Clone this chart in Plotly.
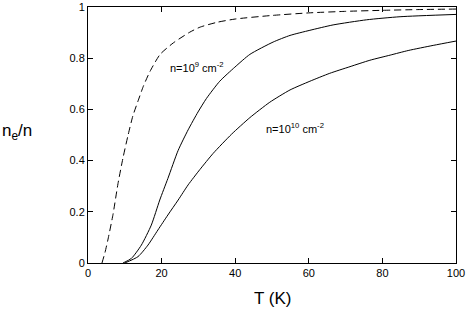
import plotly.graph_objects as go

T_dash = [3.8, 4.6, 5.4, 6.8, 8.15, 9.5, 10.9, 12.2, 13.7, 15.0, 16.8, 19.6, 23.2, 27.7, 30.4, 35, 40, 50, 60, 70, 80, 90, 100]
v_dash = [0, 0.04, 0.09, 0.19, 0.31, 0.41, 0.50, 0.575, 0.637, 0.689, 0.747, 0.815, 0.86, 0.902, 0.921, 0.94, 0.953, 0.967, 0.977, 0.983, 0.987, 0.99, 0.992]

T_mid = [9.5, 11.8, 14.5, 17.2, 19.5, 21.7, 24.5, 27.2, 29.9, 32.2, 35.8, 39.9, 44, 50.3, 54.9, 60.3, 66.6, 75.7, 84.8, 100]
v_mid = [0, 0.018, 0.07, 0.148, 0.246, 0.33, 0.44, 0.52, 0.59, 0.643, 0.71, 0.765, 0.815, 0.863, 0.889, 0.909, 0.93, 0.95, 0.962, 0.971]

T_low = [10, 13.6, 16.3, 19, 21.7, 24.5, 27.2, 30.4, 34, 39, 44, 49.4, 54.9, 60.3, 65.7, 71.2, 76.6, 82.1, 87, 93.8, 100]
v_low = [0, 0.025, 0.07, 0.129, 0.1875, 0.246, 0.305, 0.365, 0.428, 0.503, 0.568, 0.628, 0.676, 0.71, 0.741, 0.767, 0.792, 0.812, 0.83, 0.85, 0.867]

x_ticks = [0, 20, 40, 60, 80, 100]
y_ticks = [0, 0.2, 0.4, 0.6, 0.8, 1]
y_ticktext = ["0", "0.2", "0.4", "0.6", "0.8", "1"]

FONT = "Liberation Sans, Arial, sans-serif"

fig = go.Figure()
fig.add_trace(go.Scatter(x=T_dash, y=v_dash, mode="lines",
                         line=dict(color="black", width=1, dash="7px,4px", shape="spline", smoothing=0.6)))
fig.add_trace(go.Scatter(x=T_mid, y=v_mid, mode="lines",
                         line=dict(color="black", width=1, shape="spline", smoothing=0.6)))
fig.add_trace(go.Scatter(x=T_low, y=v_low, mode="lines",
                         line=dict(color="black", width=1, shape="spline", smoothing=0.6)))

axis_common = dict(showgrid=False, zeroline=False, showline=True, linecolor="black",
                   linewidth=1, mirror="allticks", ticks="inside", ticklen=5,
                   tickcolor="black", automargin=False, ticklabeloverflow="allow",
                   tickfont=dict(family=FONT, size=11, color="black"))

fig.update_xaxes(range=[0, 100], tickvals=x_ticks, **axis_common)
fig.update_yaxes(range=[0, 1], tickvals=y_ticks, ticktext=y_ticktext, **axis_common)

fig.add_annotation(x=21.7, y=0.766, xref="x", yref="y", xanchor="left", yanchor="middle",
                   text="n=10<sup>9</sup> cm<sup>-2</sup>", showarrow=False,
                   font=dict(family=FONT, size=11, color="black"))
fig.add_annotation(x=47.9, y=0.527, xref="x", yref="y", xanchor="left", yanchor="middle",
                   text="n=10<sup>10</sup> cm<sup>-2</sup>", showarrow=False,
                   font=dict(family=FONT, size=11, color="black"))
fig.add_annotation(x=-0.239, y=0.51, xref="paper", yref="paper", xanchor="left", yanchor="middle",
                   text="n<sub>e</sub>/n", showarrow=False,
                   font=dict(family=FONT, size=17, color="black"))
fig.add_annotation(x=0.5, y=-0.137, xref="paper", yref="paper", xanchor="center", yanchor="middle",
                   text="T (K)", showarrow=False,
                   font=dict(family=FONT, size=17, color="black"))

fig.update_layout(width=466, height=309, margin=dict(l=88, r=10, t=7, b=46, autoexpand=False),
                  plot_bgcolor="white", paper_bgcolor="white", showlegend=False)

fig.write_html("out.html", config={"displayModeBar": False},
               post_script="document.body.style.margin='0';document.body.style.overflow='hidden';")
